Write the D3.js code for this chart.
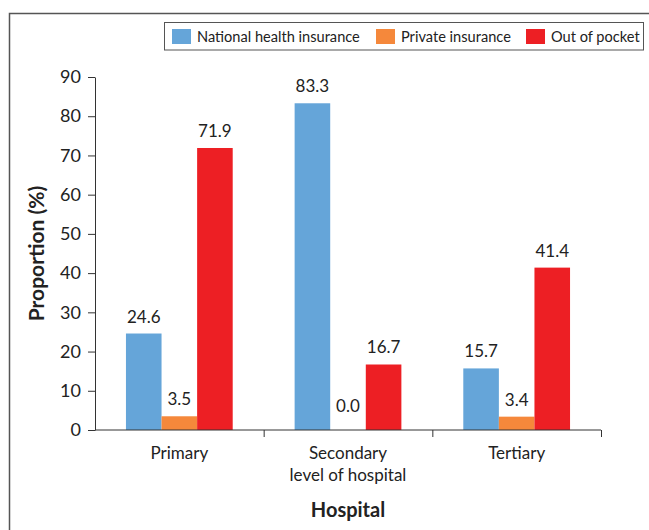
<!DOCTYPE html>
<html>
<head>
<meta charset="utf-8">
<script src="https://cdn.jsdelivr.net/npm/d3@7"></script>
<style>
  html, body { margin: 0; padding: 0; background: #fff; }
  svg { display: block; font-family: Lato, "Open Sans", sans-serif; }
</style>
</head>
<body>
<svg id="chart" width="649" height="530"></svg>
<script>
// Funding source by level of hospital (%)
const categories = ["Primary", "Secondary\nlevel of hospital", "Tertiary"];
const seriesNames = ["National health insurance", "Private insurance", "Out of pocket"];
const nationalHealthInsurance = [24.6, 83.3, 15.7];
const privateInsurance = [3.5, 0.0, 3.4];
const outOfPocket = [71.9, 16.7, 41.4];
const yTicks = [0, 10, 20, 30, 40, 50, 60, 70, 80, 90];
const colors = ["#65a5d9", "#f5883b", "#ed1f24"];

const seriesValues = [nationalHealthInsurance, privateInsurance, outOfPocket];
const rows = categories.map((c, i) => ({
  category: c,
  values: seriesNames.map((s, j) => ({ series: s, value: seriesValues[j][i] }))
}));

const svg = d3.select("#chart");
const textColor = "#222";

// Outer frame (left and top edges)
svg.append("path")
  .attr("d", "M9.5,530 V13.5 H649")
  .attr("fill", "none").attr("stroke", "#555").attr("stroke-width", 1.5);

const plot = { left: 95, right: 601, top: 77, bottom: 430 };

const x0 = d3.scaleBand().domain(categories).range([plot.left, plot.right]).padding(0);
const x1 = d3.scaleBand().domain(seriesNames).range([0, x0.bandwidth()])
  .paddingInner(0).paddingOuter(0.87);
const y = d3.scaleLinear().domain([0, 90]).range([plot.bottom, plot.top]);

// Bars
const groups = svg.append("g").selectAll("g").data(rows).join("g")
  .attr("transform", d => `translate(${x0(d.category)},0)`);

groups.selectAll("rect").data(d => d.values).join("rect")
  .attr("x", d => x1(d.series))
  .attr("y", d => y(d.value))
  .attr("width", x1.bandwidth())
  .attr("height", d => y(0) - y(d.value))
  .attr("fill", (d, i) => colors[i]);

// Value labels
groups.selectAll("text").data(d => d.values).join("text")
  .attr("x", d => x1(d.series) + x1.bandwidth() / 2)
  .attr("y", d => y(d.value) - (d.value === 0 ? 18 : 11))
  .attr("text-anchor", "middle")
  .attr("font-size", 17)
  .attr("fill", textColor)
  .text(d => d.value.toFixed(1));

// Y axis
const yAxis = svg.append("g")
  .attr("transform", `translate(${plot.left},0)`)
  .call(d3.axisLeft(y).tickValues(yTicks).tickSize(7).tickPadding(7).tickSizeOuter(0));
yAxis.select(".domain").attr("stroke", "#333");
yAxis.selectAll(".tick line").attr("stroke", "#333");
yAxis.selectAll(".tick text").attr("font-size", 18).attr("fill", textColor)
  .attr("font-family", "Lato, 'Open Sans', sans-serif");

// X axis: ticks at category boundaries
const xAxisG = svg.append("g").attr("transform", `translate(0,${plot.bottom})`);
xAxisG.append("line")
  .attr("x1", plot.left).attr("x2", plot.right)
  .attr("stroke", "#333");
const boundaries = categories.map(c => x0(c) + x0.bandwidth());
xAxisG.selectAll("line.tick").data(boundaries).join("line")
  .attr("class", "tick")
  .attr("x1", d => d + 0.5).attr("x2", d => d + 0.5)
  .attr("y1", 0).attr("y2", 7)
  .attr("stroke", "#333");

// Category labels (multi-line)
const catLabels = svg.append("g").selectAll("text").data(categories).join("text")
  .attr("x", d => x0(d) + x0.bandwidth() / 2)
  .attr("y", 459)
  .attr("text-anchor", "middle")
  .attr("font-size", 17)
  .attr("fill", textColor);
catLabels.selectAll("tspan").data(d => d.split("\n")).join("tspan")
  .attr("x", function () { return this.parentNode.getAttribute("x"); })
  .attr("dy", (d, i) => i === 0 ? 0 : 22)
  .text(d => d);

// Axis titles
svg.append("text")
  .attr("x", (plot.left + plot.right) / 2)
  .attr("y", 517)
  .attr("text-anchor", "middle")
  .attr("font-size", 20).attr("font-weight", "bold")
  .attr("fill", textColor)
  .text("Hospital");

svg.append("text")
  .attr("transform", `translate(44,${(plot.top + plot.bottom) / 2}) rotate(-90)`)
  .attr("text-anchor", "middle")
  .attr("font-size", 21).attr("font-weight", "bold")
  .attr("fill", textColor)
  .text("Proportion (%)");

// Legend
const legend = svg.append("g");
legend.append("rect")
  .attr("x", 164.5).attr("y", 22.5).attr("width", 479).attr("height", 27.5)
  .attr("fill", "#fff").attr("stroke", "#555").attr("stroke-width", 1);
const legendX = [172, 376, 526];
const items = legend.selectAll("g.item").data(seriesNames).join("g")
  .attr("class", "item")
  .attr("transform", (d, i) => `translate(${legendX[i]},29)`);
items.append("rect")
  .attr("width", 19).attr("height", 15)
  .attr("fill", (d, i) => colors[i]);
items.append("text")
  .attr("x", 25).attr("y", 12.5)
  .attr("font-size", 14.6)
  .attr("fill", textColor)
  .text(d => d);
</script>
</body>
</html>
